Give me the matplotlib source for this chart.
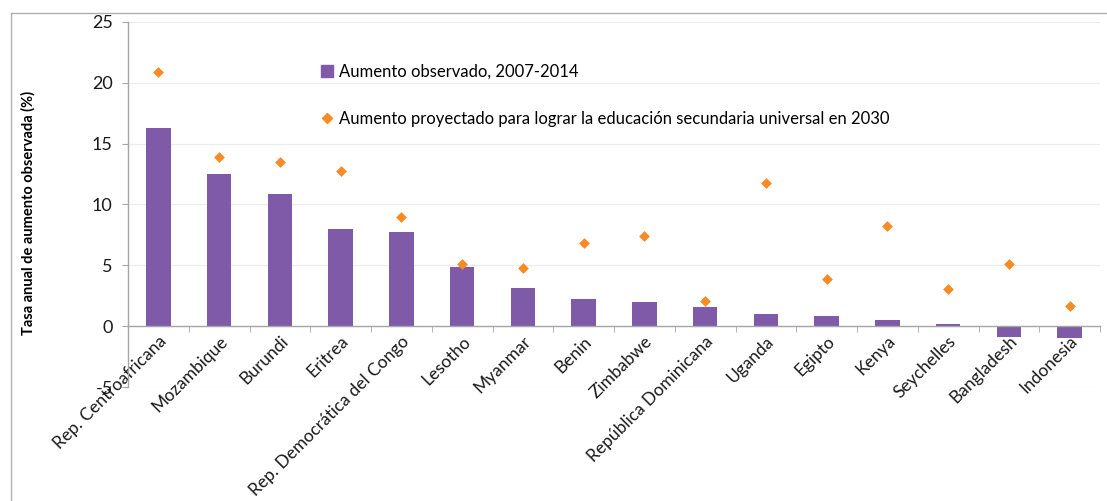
import numpy as np
import matplotlib.pyplot as plt
from matplotlib.lines import Line2D

# Data
countries = [
    "Rep. Centroafricana", "Mozambique", "Burundi", "Eritrea",
    "Rep. Democrática del Congo", "Lesotho", "Myanmar", "Benin",
    "Zimbabwe", "República Dominicana", "Uganda", "Egipto", "Kenya",
    "Seychelles", "Bangladesh", "Indonesia",
]
observed = [16.3, 12.5, 10.9, 8.0, 7.7, 4.85, 3.1, 2.25, 2.0, 1.55, 1.0, 0.8, 0.5, 0.15, -0.9, -1.0]
projected = [20.9, 13.9, 13.5, 12.75, 8.95, 5.15, 4.8, 6.8, 7.4, 2.05, 11.75, 3.9, 8.25, 3.05, 5.15, 1.65]

label_obs = "Aumento observado, 2007-2014"
label_proj = "Aumento proyectado para lograr la educación secundaria universal en 2030"

purple = "#7e5aa9"
orange = "#f98a24"
axis_gray = "#a6a6a6"

plt.rcParams["font.family"] = ["Lato", "DejaVu Sans"]
plt.rcParams["axes.unicode_minus"] = False

fig = plt.figure(figsize=(11.07, 5.01), dpi=100)
ax = fig.add_axes([128 / 1107, 1 - 387 / 501, (1100 - 128) / 1107, (387 - 22) / 501])

x = np.arange(len(countries))
ax.bar(x, observed, width=0.4, color=purple, zorder=2)
ax.scatter(x, projected, marker="D", s=30, color=orange, zorder=3, linewidths=0)

ax.set_xlim(-0.5, len(countries) - 0.5)
ax.set_ylim(-5, 25)
ax.set_yticks([-5, 0, 5, 10, 15, 20, 25])
ax.yaxis.grid(True, color="#ececec", linewidth=0.8, zorder=0)
ax.set_axisbelow(True)

# x axis sits at zero, ticks at category boundaries
ax.spines["bottom"].set_position(("data", 0))
ax.spines["top"].set_visible(False)
ax.spines["right"].set_visible(False)
for s in ("left", "bottom"):
    ax.spines[s].set_color(axis_gray)
    ax.spines[s].set_linewidth(1.0)

ax.set_xticks(x)
ax.set_xticklabels(countries, rotation=45, ha="right", va="top",
                   rotation_mode="anchor", fontsize=12.5, color="#1a1a1a")
ax.set_xticks(np.arange(len(countries) + 1) - 0.5, minor=True)
ax.tick_params(axis="x", which="major", length=0, pad=5)
ax.tick_params(axis="x", which="minor", length=4, color=axis_gray, direction="out")
ax.tick_params(axis="y", length=4, color=axis_gray, labelsize=13,
               labelcolor="#1a1a1a", pad=7)

fig.text(28 / 1107, 1 - 213 / 501, "Tasa anual de aumento observada (%)",
         rotation=90, ha="center", va="center", fontsize=10.5, fontweight="bold")

handles = [
    Line2D([], [], marker="s", linestyle="none", color=purple, markersize=8),
    Line2D([], [], marker="D", linestyle="none", color=orange, markersize=5.5),
]
ax.legend(handles, [label_obs, label_proj], loc="upper left",
          bbox_to_anchor=(194 / 972, 1 - 42 / 365), frameon=False,
          fontsize=12, labelspacing=1.85, handlelength=0.6, handletextpad=0.4,
          borderaxespad=0, borderpad=0)

# light frame around the chart area
fig.add_artist(Line2D([11 / 1107, 11 / 1107], [0, 1 - 13 / 501], color="#b0b0b0", linewidth=1))
fig.add_artist(Line2D([11 / 1107, 1], [1 - 13 / 501, 1 - 13 / 501], color="#b0b0b0", linewidth=1))

fig.savefig("out.png", dpi=100)
